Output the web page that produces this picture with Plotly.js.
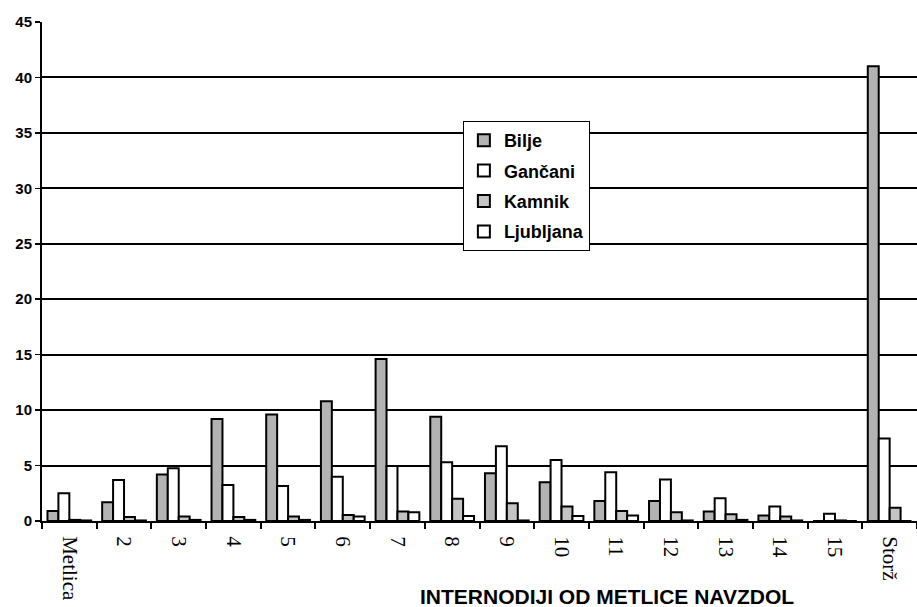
<!DOCTYPE html>
<html>
<head>
<meta charset="utf-8">
<script src="https://cdn.plot.ly/plotly-3.0.1.min.js"></script>
<style>html,body{margin:0;padding:0;background:#fff;}#chart{width:917px;height:607px;}</style>
</head>
<body>
<div id="chart"></div>
<script>
var categories = ["Metlica","2","3","4","5","6","7","8","9","10","11","12","13","14","15","Storž"];
var bilje     = [0.9, 1.7, 4.2, 9.2, 9.6, 10.8, 14.6, 9.4, 4.3, 3.5, 1.8, 1.8, 0.85, 0.5, 0, 41.0];
var gancani   = [2.5, 3.7, 4.75, 3.25, 3.15, 4.0, 4.95, 5.3, 6.75, 5.5, 4.4, 3.75, 2.05, 1.3, 0.65, 7.45];
var kamnik    = [0.1, 0.35, 0.4, 0.35, 0.4, 0.55, 0.85, 2.0, 1.6, 1.3, 0.9, 0.8, 0.6, 0.4, 0.05, 1.2];
var ljubljana = [0.05, 0.05, 0.1, 0.1, 0.1, 0.4, 0.8, 0.45, 0.05, 0.45, 0.5, 0.05, 0.1, 0.05, 0, 0];
var seriesNames = ["Bilje","Gančani","Kamnik","Ljubljana"];
var yTicks = [0,5,10,15,20,25,30,35,40,45];

var fills = ["#b3b3b3","#ffffff","#c4c4c4","#ffffff"];
var data = [bilje, gancani, kamnik, ljubljana].map(function(v, i){
  return {
    type: "bar", x: categories, y: v, name: seriesNames[i],
    legendgroup: "g" + i,
    marker: {color: fills[i], line: {color: "#000", width: 2}}
  };
});

var layout = {
  width: 917, height: 607,
  margin: {l: 42, r: 0, t: 22, b: 86},
  paper_bgcolor: "#fff", plot_bgcolor: "#fff",
  barmode: "group", bargap: 0.2, bargroupgap: 0,
  showlegend: true,
  legend: {
    x: 0.481, y: 0.8016, xanchor: "left", yanchor: "top",
    bgcolor: "#fff", bordercolor: "#000", borderwidth: 1,
    font: {family: "Liberation Sans, Arial, sans-serif", size: 18, color: "#000", weight: 700},
    traceorder: "grouped", tracegroupgap: 4, itemwidth: 30
  },
  xaxis: {
    type: "category", tickson: "boundaries",
    showline: true, linecolor: "#000", linewidth: 2,
    ticks: "outside", ticklen: 6, tickwidth: 2, tickcolor: "#000",
    tickangle: 90, ticklabelstandoff: 9,
    tickfont: {family: "Liberation Serif, Times New Roman, serif", size: 21, color: "#000"},
    showgrid: false, zeroline: false, fixedrange: true
  },
  yaxis: {
    range: [0, 45], tickvals: yTicks, ticktext: yTicks.map(String),
    showline: true, linecolor: "#000", linewidth: 2,
    ticks: "outside", ticklen: 5, tickwidth: 1.5, tickcolor: "#000",
    showgrid: true, gridcolor: "#000", gridwidth: 2,
    zeroline: false,
    tickfont: {family: "Liberation Sans, Arial, sans-serif", size: 15, color: "#000", weight: 700},
    fixedrange: true
  },
  annotations: [{
    text: "INTERNODIJI OD METLICE NAVZDOL",
    xref: "paper", yref: "paper", x: 0.646, y: -0.152,
    xanchor: "center", yanchor: "middle", showarrow: false,
    font: {family: "Liberation Sans, Arial, sans-serif", size: 21, color: "#000", weight: 700}
  }]
};

Plotly.newPlot("chart", data, layout, {displayModeBar: false, staticPlot: true});
</script>
</body>
</html>
